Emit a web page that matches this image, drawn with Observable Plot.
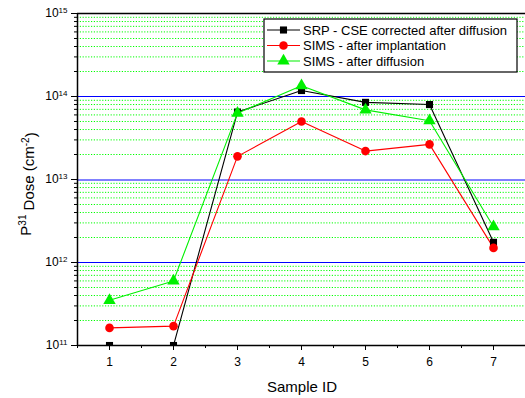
<!DOCTYPE html>
<html>
<head>
<meta charset="utf-8">
<script src="https://cdn.jsdelivr.net/npm/d3@7"></script>
<script src="https://cdn.jsdelivr.net/npm/@observablehq/plot@0.6"></script>
<style>
  html, body { margin: 0; padding: 0; background: white; overflow: hidden; }
  #chart svg { display: block; }
</style>
</head>
<body>
<div id="chart"></div>
<script>
// ---- data ----
const samples = [1, 2, 3, 4, 5, 6, 7];
const srpValues = [1e11, 1e11, 6.5e13, 1.18e14, 8.5e13, 8.0e13, 1.75e12];
const simsImplantValues = [1.63e11, 1.71e11, 1.9e13, 5.0e13, 2.2e13, 2.65e13, 1.5e12];
const simsDiffusionValues = [3.5e11, 6.0e11, 6.3e13, 1.35e14, 6.9e13, 5.1e13, 2.7e12];
const seriesNames = ["SRP - CSE corrected after diffusion", "SIMS - after implantation", "SIMS - after diffusion"];
const seriesColors = ["#000000", "#ff0000", "#00f000"];
const seriesSymbols = ["square", "circle", "triangle"];
const yMajorTicks = [1e11, 1e12, 1e13, 1e14, 1e15];
const yExponents = ["11", "12", "13", "14", "15"];
const blueGrid = [1e12, 1e13, 1e14];
const xMinorTicks = [0.5, 1.5, 2.5, 3.5, 4.5, 5.5, 6.5, 7.5];
const xLabel = "Sample ID";

// derived
const yMinorTicks = [];
for (let e = 11; e < 15; e++) for (let m = 2; m <= 9; m++) yMinorTicks.push(m * Math.pow(10, e));
const seriesValues = [srpValues, simsImplantValues, simsDiffusionValues];
const rows = [];
seriesNames.forEach((name, i) => samples.forEach((s, j) => rows.push({series: name, idx: i, sample: s, value: seriesValues[i][j]})));
const expOf = new Map(yMajorTicks.map((t, i) => [t, yExponents[i]]));

const seriesMarks = [];
seriesNames.forEach((name, i) => {
  const data = rows.filter(r => r.idx === i);
  seriesMarks.push(Plot.line(data, {x: "sample", y: "value", stroke: seriesColors[i], strokeWidth: 1.1, clip: true}));
});
const symbolR = [4, 4.3, 4.6];
seriesNames.forEach((name, i) => {
  const data = rows.filter(r => r.idx === i);
  seriesMarks.push(Plot.dot(data, {x: "sample", y: "value", fill: seriesColors[i], stroke: "none", symbol: seriesSymbols[i], r: symbolR[i], clip: true}));
});

const chart = Plot.plot({
  width: 525,
  height: 398,
  marginLeft: 77,
  marginRight: 0,
  marginTop: 13,
  marginBottom: 53,
  style: {fontFamily: "'Liberation Sans', Arial, sans-serif", fontSize: "12px", color: "black", background: "white"},
  x: {domain: [0.5, 7.5]},
  y: {type: "log", domain: [1e11, 1e15]},
  marks: [
    Plot.ruleY(yMinorTicks, {stroke: "#00ff00", strokeDasharray: "1.2,1.6", strokeWidth: 1}),
    ...blueGrid.map(v => Plot.ruleY([v], {stroke: "#0000ff", strokeWidth: 1, dy: v === 1e13 ? 0.5 : 0})),
    ...seriesMarks,
    Plot.ruleX([0.5], {stroke: "black", strokeWidth: 1.5}),
    Plot.ruleY([1e11, 1e15], {stroke: "black", strokeWidth: 1.5}),
    Plot.axisX(samples, {tickSize: 5, tickPadding: 7, label: null, tickFormat: d => String(d), fontSize: 12}),
    Plot.axisX(xMinorTicks, {tickSize: 3, tickFormat: () => "", label: null}),
    Plot.axisY(yMajorTicks, {tickSize: 6, tickPadding: 4, label: null, tickFormat: d => "10^" + expOf.get(d), fontSize: 12}),
    Plot.axisY(yMinorTicks, {tickSize: 3, tickFormat: () => "", label: null})
  ]
});
document.getElementById("chart").appendChild(chart);

const svg = d3.select(chart);

// superscripts on y tick labels
svg.selectAll("text").each(function () {
  const t = this.textContent;
  if (/^10\^\d+$/.test(t)) {
    const exp = t.split("^")[1];
    const sel = d3.select(this);
    sel.text("10");
    sel.append("tspan").attr("dy", "-0.55em").attr("font-size", "8px").text(exp);
  }
});

const font = "'Liberation Sans', Arial, sans-serif";

// y-axis title
const yt = svg.append("text")
  .attr("transform", "translate(31,184) rotate(-90)")
  .attr("text-anchor", "middle")
  .attr("font-family", font).attr("font-size", "15px").attr("fill", "black");
yt.append("tspan").text("P");
yt.append("tspan").attr("dy", "-0.5em").attr("font-size", "10px").text("31");
yt.append("tspan").attr("dy", "0.5em").text(" Dose (cm");
yt.append("tspan").attr("dy", "-0.5em").attr("font-size", "10px").text("-2");
yt.append("tspan").attr("dy", "0.5em").text(")");

// x-axis title
svg.append("text").attr("x", 302).attr("y", 392).attr("text-anchor", "middle")
  .attr("font-family", font).attr("font-size", "15px").attr("fill", "black").text(xLabel);

// legend
const lg = svg.append("g").attr("text-anchor", "start");
lg.append("rect").attr("x", 264).attr("y", 19).attr("width", 253).attr("height", 53)
  .attr("fill", "#ffffff").style("fill", "#ffffff").attr("stroke", "black").attr("stroke-width", 1.2);
const rowY = [30, 45.5, 61];
const symGen = [d3.symbolSquare, d3.symbolCircle, d3.symbolTriangle];
seriesNames.forEach((name, i) => {
  const y = rowY[i];
  lg.append("line").attr("x1", 267).attr("x2", 300).attr("y1", y).attr("y2", y)
    .attr("stroke", seriesColors[i]).attr("stroke-width", 1.1);
  lg.append("path").attr("transform", `translate(283.5,${y})`)
    .attr("d", d3.symbol(symGen[i], Math.PI * symbolR[i] * symbolR[i])())
    .attr("fill", seriesColors[i]);
  lg.append("text").attr("x", 303).attr("y", y + 4.5).attr("text-anchor", "start")
    .attr("font-family", font).attr("font-size", "13px").attr("fill", "black").text(name);
});
</script>
</body>
</html>
